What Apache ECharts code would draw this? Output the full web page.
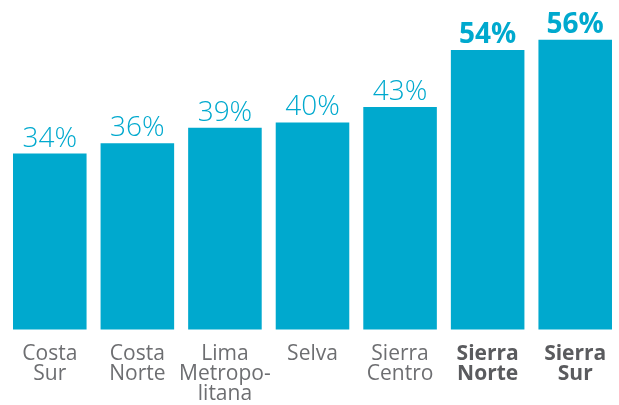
<!DOCTYPE html>
<html>
<head>
<meta charset="utf-8">
<script src="https://cdn.jsdelivr.net/npm/echarts@6/dist/echarts.min.js"></script>
<style>
  html, body { margin: 0; padding: 0; background: #fff; }
  #main { width: 619px; height: 405px; }
</style>
</head>
<body>
<div id="main"></div>
<script>
  const categories = ['Costa\nSur', 'Costa\nNorte', 'Lima\nMetropo-\nlitana', 'Selva', 'Sierra\nCentro', 'Sierra\nNorte', 'Sierra\nSur'];
  const values = [34, 36, 39, 40, 43, 54, 56];
  const boldFrom = 5; // last two regions are highlighted

  const barColor = '#00a9ce';

  const option = {
    animation: false,
    grid: { left: 6, right: -3, top: 19, bottom: 73, containLabel: false },
    xAxis: {
      type: 'category',
      data: categories,
      axisLine: { show: false },
      axisTick: { show: false },
      axisLabel: {
        interval: 0,
        margin: 15,
        fontFamily: 'Open Sans',
        fontSize: 21,
        lineHeight: 20,
        color: '#6d6e71',
        formatter: function (v, i) {
          return i >= boldFrom ? '{b|' + v.split('\n').join('}\n{b|') + '}' : v;
        },
        rich: {
          b: { fontFamily: 'Open Sans', fontSize: 21, lineHeight: 20, fontWeight: 'bold', color: '#5a5b5e' }
        }
      }
    },
    yAxis: {
      type: 'value',
      min: 0,
      max: 60,
      show: false,
      splitLine: { show: false }
    },
    series: [{
      type: 'bar',
      barCategoryGap: '16%',
      data: values.map(function (v, i) {
        return {
          value: v,
          label: { fontWeight: i >= boldFrom ? 'bold' : 300 }
        };
      }),
      itemStyle: { color: barColor },
      label: {
        show: true,
        position: 'top',
        distance: 1,
        fontFamily: 'Open Sans',
        fontSize: 28,
        color: barColor,
        formatter: '{c}%'
      }
    }]
  };

  const myChart = echarts.init(document.getElementById('main'));
  myChart.setOption(option);
</script>
</body>
</html>
